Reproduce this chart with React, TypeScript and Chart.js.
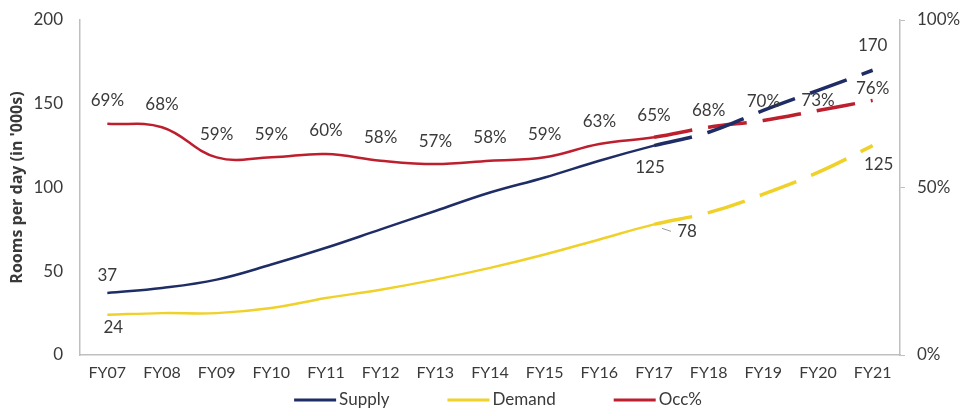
import React, { useEffect, useRef } from "react";
import { Chart, registerables } from "chart.js";

Chart.register(...registerables);

const categories = ["FY07", "FY08", "FY09", "FY10", "FY11", "FY12", "FY13", "FY14", "FY15", "FY16", "FY17", "FY18", "FY19", "FY20", "FY21"];
const supply = [37, 40, 45, 54, 64, 75, 86, 97, 106, 116, 125, 133, 146, 158, 170];
const demand = [24, 25, 25, 28, 34, 39, 45, 52, 60, 69, 78, 85, 96, 109, 125];
const occupancy = [69, 68, 59, 59, 60, 58, 57, 58, 59, 63, 65, 68, 70, 73, 76];
const leftTicks = [0, 50, 100, 150, 200];
const rightTicks = [0, 50, 100];
const projectionStart = 10; // segments from this index onward are drawn dashed
const supplyLabelIdx = [0, 10, 14];
const demandLabelIdx = [0, 10, 14];

const FONT = "Lato";
const TEXT = "#3a3a3a";
const NAVY = "#1f2d66";
const YELLOW = "#efd12a";
const RED = "#bd1f2e";

// label placement (style only)
const supplyLabelOffsets = [[0, -18], [-4, 22], [0, -25]];
const demandLabelOffsets = [[6, 13], [33, 7], [6, 19]];
const occLabelOffsets = [-23, -23, -23, -23, -23, -23, -23, -23, -23, -22, -22, -17, -19, -10, -12];

const dashedSegment = (width: number) => ({
  borderDash: (ctx: any) => (ctx.p0DataIndex >= projectionStart ? [39, 16] : undefined),
  borderWidth: (ctx: any) => (ctx.p0DataIndex >= projectionStart ? 3.5 : width),
});

const labelsPlugin = {
  id: "pointLabels",
  afterDatasetsDraw(chart: any) {
    const ctx = chart.ctx;
    ctx.save();
    ctx.font = `17px ${FONT}`;
    ctx.fillStyle = TEXT;
    ctx.textAlign = "center";
    ctx.textBaseline = "middle";
    const sMeta = chart.getDatasetMeta(0);
    supplyLabelIdx.forEach((i, k) => {
      const p = sMeta.data[i];
      ctx.fillText(String(supply[i]), p.x + supplyLabelOffsets[k][0], p.y + supplyLabelOffsets[k][1]);
    });
    const dMeta = chart.getDatasetMeta(1);
    demandLabelIdx.forEach((i, k) => {
      const p = dMeta.data[i];
      const x = p.x + demandLabelOffsets[k][0];
      const y = p.y + demandLabelOffsets[k][1];
      ctx.fillText(String(demand[i]), x, y);
      if (k === 1) {
        ctx.save();
        ctx.strokeStyle = "#9a9a9a";
        ctx.lineWidth = 1;
        ctx.beginPath();
        ctx.moveTo(x - 25, y - 3);
        ctx.lineTo(x - 16, y);
        ctx.stroke();
        ctx.restore();
      }
    });
    const oMeta = chart.getDatasetMeta(2);
    occupancy.forEach((v, i) => {
      const p = oMeta.data[i];
      ctx.fillText(`${v}%`, p.x, p.y + occLabelOffsets[i]);
    });
    ctx.restore();
  },
};

const legendPlugin = {
  id: "lineLegend",
  afterDraw(chart: any) {
    const ctx = chart.ctx;
    const { left, right } = chart.chartArea;
    const lineW = 42;
    const gap = 3;
    const itemGap = 58;
    const y = 400;
    ctx.save();
    ctx.font = `17px ${FONT}`;
    ctx.textBaseline = "middle";
    ctx.textAlign = "left";
    const items = chart.data.datasets.map((ds: any) => ({
      text: ds.label,
      color: ds.borderColor,
      w: lineW + gap + ctx.measureText(ds.label).width,
    }));
    const total = items.reduce((a: number, it: any) => a + it.w, 0) + itemGap * (items.length - 1);
    let x = (left + right) / 2 + 8 - total / 2;
    items.forEach((it: any) => {
      ctx.strokeStyle = it.color;
      ctx.lineWidth = 3;
      ctx.beginPath();
      ctx.moveTo(x, y);
      ctx.lineTo(x + lineW, y);
      ctx.stroke();
      ctx.fillStyle = TEXT;
      ctx.fillText(it.text, x + lineW + gap, y);
      x += it.w + itemGap;
    });
    ctx.restore();
  },
};

export default function App() {
  const ref = useRef<HTMLCanvasElement | null>(null);

  useEffect(() => {
    if (!ref.current) return;
    const chart = new Chart(ref.current, {
      type: "line",
      data: {
        labels: categories,
        datasets: [
          {
            label: "Supply",
            data: supply,
            borderColor: NAVY,
            backgroundColor: NAVY,
            borderWidth: 2.5,
            pointRadius: 0,
            tension: 0.4,
            yAxisID: "y",
            segment: dashedSegment(2.5),
          },
          {
            label: "Demand",
            data: demand,
            borderColor: YELLOW,
            backgroundColor: YELLOW,
            borderWidth: 2.5,
            pointRadius: 0,
            tension: 0.4,
            yAxisID: "y",
            segment: dashedSegment(2.5),
          },
          {
            label: "Occ%",
            data: occupancy,
            borderColor: RED,
            backgroundColor: RED,
            borderWidth: 2.5,
            pointRadius: 0,
            tension: 0.4,
            yAxisID: "y1",
            segment: dashedSegment(2.5),
          },
        ],
      },
      options: {
        animation: false,
        responsive: false,
        layout: { padding: { top: 20, left: 0, right: 0, bottom: 35 } },
        plugins: {
          tooltip: { enabled: false },
          legend: { display: false },
        },
        scales: {
          x: {
            offset: true,
            grid: { display: false, drawTicks: false },
            border: { display: true, color: "#bfbfbf", width: 1.5 },
            ticks: { color: TEXT, font: { family: FONT, size: 16 }, padding: 8, maxRotation: 0, autoSkip: false },
            afterFit: (s: any) => { s.height = 26; s.paddingLeft = 0; s.paddingRight = 0; },
          },
          y: {
            position: "left",
            min: 0,
            max: 200,
            afterBuildTicks: (s: any) => { s.ticks = leftTicks.map((v) => ({ value: v })); },
            grid: { display: false, drawTicks: false },
            border: { display: true, color: "#bfbfbf", width: 1.5 },
            ticks: { color: TEXT, font: { family: FONT, size: 17 }, padding: 17 },
            title: {
              display: true,
              text: "Rooms per day (in '000s)",
              color: TEXT,
              font: { family: "Open Sans", size: 16, weight: "bold" },
              padding: { top: 8, bottom: 0 },
            },
            afterFit: (s: any) => { s.width = 80; s.paddingTop = 0; s.paddingBottom = 0; },
          },
          y1: {
            position: "right",
            min: 0,
            max: 100,
            afterBuildTicks: (s: any) => { s.ticks = rightTicks.map((v) => ({ value: v })); },
            grid: { display: true, drawOnChartArea: false, drawTicks: true, tickLength: 5, color: "#bfbfbf" },
            border: { display: true, color: "#bfbfbf", width: 1.5 },
            ticks: { color: TEXT, font: { family: FONT, size: 17 }, padding: 12, callback: (v: any) => `${v}%` },
            afterFit: (s: any) => { s.width = 63; s.paddingTop = 0; s.paddingBottom = 0; },
          },
        },
      },
      plugins: [labelsPlugin, legendPlugin],
    });
    return () => chart.destroy();
  }, []);

  return (
    <div style={{ position: "absolute", left: 0, top: 0, width: 963, height: 416, background: "#fff" }}>
      <canvas ref={ref} width={963} height={416} style={{ width: 963, height: 416 }} />
    </div>
  );
}
